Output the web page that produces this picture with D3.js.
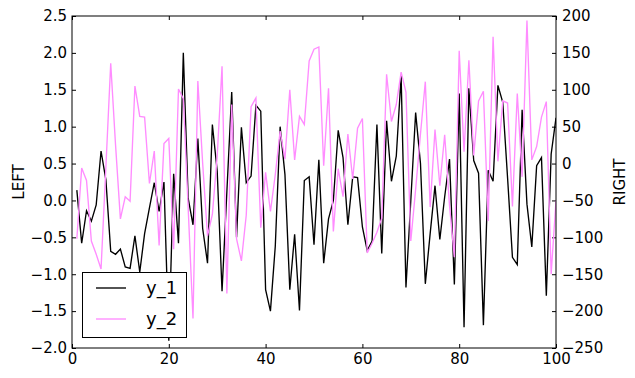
<!DOCTYPE html>
<html><head><meta charset="utf-8">
<script src="https://cdn.jsdelivr.net/npm/d3@7"></script>
<style>body{margin:0;background:#fff}svg{display:block}text{font-family:"DejaVu Sans",sans-serif}</style>
</head><body>
<svg id="c" width="635" height="378"></svg>
<script>
const xValues = d3.range(1, 101);
const y1Values = [0.14,-0.58,-0.14,-0.28,-0.06,0.67,0.28,-0.69,-0.73,-0.66,
-0.90,-0.92,-0.48,-0.97,-0.45,-0.10,0.24,-0.15,0.25,-1.90,
0.36,-0.58,2.00,0.03,-0.33,0.84,-0.38,-0.85,1.03,0.40,
-1.23,0.12,1.47,-0.50,0.99,0.24,0.33,1.29,1.21,-1.21,
-1.50,-0.62,1.00,0.35,-1.21,-0.46,-1.49,0.27,0.32,-0.60,
0.55,-0.85,-0.25,0.00,0.95,0.58,-0.33,0.32,0.31,-0.36,
-0.68,-0.55,1.03,-0.72,1.08,0.26,0.60,1.69,-1.18,0.00,
1.19,0.50,-1.13,-0.45,0.20,-0.53,0.05,0.56,-1.14,1.45,
-1.72,1.52,0.54,0.37,-1.69,0.41,0.26,1.56,1.33,0.30,
-0.77,-0.87,1.23,-0.05,-0.63,0.47,0.58,-1.29,0.63,1.12];
const y2Values = [-102,-6,-23,-105,-123,-143,-5,136,25,-75,
-45,-51,105,64,63,-27,17,-111,27,34,
-116,101,88,-60,-210,112,0,-98,-69,10,
132,-176,80,-102,-132,-70,77,89,-87,-12,
-65,-15,44,6,100,5,64,53,139,155,
158,-3,102,-92,-7,-45,40,-21,48,61,
-121,-108,-93,-74,121,57,80,124,97,-105,
-35,40,111,-59,46,-30,39,-57,-127,153,
16,140,11,85,98,-78,172,3,85,82,
-58,95,-18,194,5,23,63,84,-150,-50];
const xTicks = [0,20,40,60,80,100];
const leftTicks = [-2.0,-1.5,-1.0,-0.5,0.0,0.5,1.0,1.5,2.0,2.5];
const rightTicks = [-250,-200,-150,-100,-50,0,50,100,150,200];
const seriesNames = ["y_1","y_2"];
const seriesColors = ["#000000","#ff8cff"];

const L=72,R=556,T=16,B=348;
const svg=d3.select("#c");
const x=d3.scaleLinear().domain([0,100]).range([L,R]);
const yL=d3.scaleLinear().domain([-2,2.5]).range([B,T]);
const yR=d3.scaleLinear().domain([-250,200]).range([B,T]);

const fs=15;
function style(g){g.select(".domain").remove();g.selectAll("line").attr("stroke","#000");g.selectAll("text").attr("font-size",fs).attr("fill","#000").attr("font-family","DejaVu Sans");}

svg.append("g").attr("transform",`translate(0,${B})`).call(d3.axisBottom(x).tickValues(xTicks).tickFormat(d3.format("d")).tickSizeInner(-4).tickSizeOuter(0).tickPadding(5)).call(style);
svg.append("g").attr("transform",`translate(0,${T})`).call(d3.axisTop(x).tickValues(xTicks).tickFormat("").tickSizeInner(-4).tickSizeOuter(0)).call(style);
svg.append("g").attr("transform",`translate(${L},0)`).call(d3.axisLeft(yL).tickValues(leftTicks).tickFormat(d3.format(".1f")).tickSizeInner(-4).tickSizeOuter(0).tickPadding(5)).call(style);
svg.append("g").attr("transform",`translate(${R},0)`).call(d3.axisRight(yR).tickValues(rightTicks).tickFormat(d3.format("d")).tickSizeInner(-4).tickSizeOuter(0).tickPadding(6)).call(style);

svg.append("clipPath").attr("id","pc").append("rect").attr("x",L).attr("y",T).attr("width",R-L).attr("height",B-T);
const g=svg.append("g").attr("clip-path","url(#pc)");
g.append("path").datum(xValues.map((d,i)=>[d,y1Values[i]])).attr("fill","none").attr("stroke",seriesColors[0]).attr("stroke-width",1.35)
 .attr("d",d3.line().x(d=>x(d[0])).y(d=>yL(d[1])));
g.append("path").datum(xValues.map((d,i)=>[d,y2Values[i]])).attr("fill","none").attr("stroke",seriesColors[1]).attr("stroke-width",1.35)
 .attr("d",d3.line().x(d=>x(d[0])).y(d=>yR(d[1])));

svg.append("rect").attr("x",L).attr("y",T).attr("width",R-L).attr("height",B-T).attr("fill","none").attr("stroke","#000").attr("stroke-width",1);

svg.append("text").attr("transform",`translate(24,${(T+B)/2}) rotate(-90)`).attr("text-anchor","middle").attr("font-size",fs).text("LEFT");
svg.append("text").attr("transform",`translate(625,${(T+B)/2}) rotate(-90)`).attr("text-anchor","middle").attr("font-size",fs).text("RIGHT");

const lg=svg.append("g");
lg.append("rect").attr("x",82.5).attr("y",272.5).attr("width",104).attr("height",65).attr("fill","#fff").attr("stroke","#000");
seriesNames.forEach((n,i)=>{
  const yy=288+i*31;
  lg.append("line").attr("x1",96).attr("x2",126).attr("y1",yy).attr("y2",yy).attr("stroke",seriesColors[i]).attr("stroke-width",1.35);
  lg.append("text").attr("x",146).attr("y",yy).attr("dy","0.35em").attr("font-size",18).text(n);
});
</script>
</body></html>
